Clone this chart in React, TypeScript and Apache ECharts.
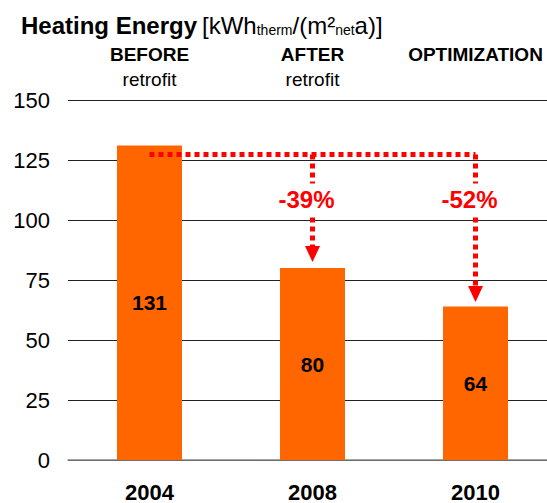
import React, { useEffect, useRef } from "react";
import * as echarts from "echarts";

const years = ["2004", "2008", "2010"];
const heatingValues = [131, 80, 64];
const phaseTitles = ["BEFORE", "AFTER", "OPTIMIZATION"];
const phaseSubtitles = ["retrofit", "retrofit", ""];
const changeLabels = ["-39%", "-52%"];
const changeTargets = ["2008", "2010"];
const baselineLevel = 127.3;
const arrowEnds = [85.8, 69.2];
const changeLabelLevel = 108.5;
const yTicks = [0, 25, 50, 75, 100, 125, 150];

const FONT = "'Liberation Sans', Arial, sans-serif";

export default function App() {
  const ref = useRef<HTMLDivElement>(null);
  useEffect(() => {
    const chart = echarts.init(ref.current!, undefined, { renderer: "svg" });
    const red = "#ff0000";
    const dotted = { color: red, width: 5, type: [5, 4] as any, cap: "butt" as any };
    const markData: any[] = [
      [
        { coord: [years[0], baselineLevel], symbol: "none" },
        { coord: [years[2], baselineLevel], symbol: "none" },
      ],
    ];
    changeTargets.forEach((t, i) => {
      markData.push([
        { coord: [t, baselineLevel], symbol: "none" },
        { coord: [t, arrowEnds[i]], symbol: "triangle", symbolSize: [15, 16] },
      ]);
    });
    chart.setOption({
      animation: false,
      textStyle: { fontFamily: FONT },
      title: {
        left: 16,
        top: 8,
        text:
          "{b|Heating Energy} {n|[kWh}{s|therm}{n|/(m²}{s|net}{n|a)]}",
        textStyle: {
          fontWeight: "normal",
          rich: {
            b: { fontSize: 24, fontWeight: "bold", color: "#000", fontFamily: FONT },
            n: { fontSize: 24, fontWeight: "normal", color: "#000", fontFamily: FONT },
            s: { fontSize: 14, fontWeight: "normal", color: "#000", fontFamily: FONT, verticalAlign: "bottom" },
          },
        },
      },
      grid: { left: 68, top: 100, width: 489, height: 360, containLabel: false, outerBoundsMode: "none" },
      xAxis: [
        {
          type: "category",
          data: years,
          position: "bottom",
          axisLine: { show: true, lineStyle: { color: "#888", width: 1.5 } },
          axisTick: { show: false },
          axisLabel: {
            margin: 21,
            fontSize: 22,
            lineHeight: 22,
            fontWeight: "bold",
            color: "#000",
            fontFamily: FONT,
          },
        },
        {
          type: "category",
          data: years,
          position: "top",
          axisLine: { show: false },
          axisTick: { show: false },
          axisLabel: {
            margin: 8,
            formatter: (_v: string, idx: number) =>
              `{b|${phaseTitles[idx]}}\n{n|${phaseSubtitles[idx] || " "}}`,
            rich: {
              b: { fontSize: 19, fontWeight: "bold", color: "#000", fontFamily: FONT, lineHeight: 25 },
              n: { fontSize: 19, color: "#000", fontFamily: FONT, lineHeight: 25 },
            },
          },
        },
      ],
      yAxis: {
        type: "value",
        min: yTicks[0],
        max: yTicks[yTicks.length - 1],
        interval: 25,
        axisLine: { show: false },
        axisTick: { show: false },
        axisLabel: { margin: 18, fontSize: 22, color: "#000", fontFamily: FONT },
        splitLine: { lineStyle: { color: "#222", width: 1 } },
      },
      series: [
        {
          type: "bar",
          data: heatingValues,
          barWidth: 65,
          itemStyle: { color: "#ff6600" },
          label: {
            show: true,
            position: "inside",
            fontSize: 21,
            fontWeight: "bold",
            color: "#000",
            fontFamily: FONT,
          },
          markLine: {
            silent: true,
            symbol: ["none", "triangle"],
            label: { show: false },
            lineStyle: dotted,
            itemStyle: { color: red },
            emphasis: { disabled: true },
            data: markData,
            z: 5,
          },
        },
        {
          type: "scatter",
          data: changeTargets.map((t) => [t, changeLabelLevel]),
          symbolSize: 0,
          z: 10,
          silent: true,
          itemStyle: { opacity: 1 },
          label: {
            show: true,
            position: "inside",
            formatter: (p: any) => changeLabels[p.dataIndex],
            fontSize: 24,
            fontWeight: "bold",
            color: red,
            opacity: 1,
            fontFamily: FONT,
            backgroundColor: "#fff",
            padding: [4, 3],
            offset: [-6, 0],
          },
        },
      ],
    });
    return () => chart.dispose();
  }, []);
  return (
    <div
      ref={ref}
      style={{ position: "absolute", left: 0, top: 0, width: 547, height: 503, overflow: "hidden" }}
    />
  );
}
